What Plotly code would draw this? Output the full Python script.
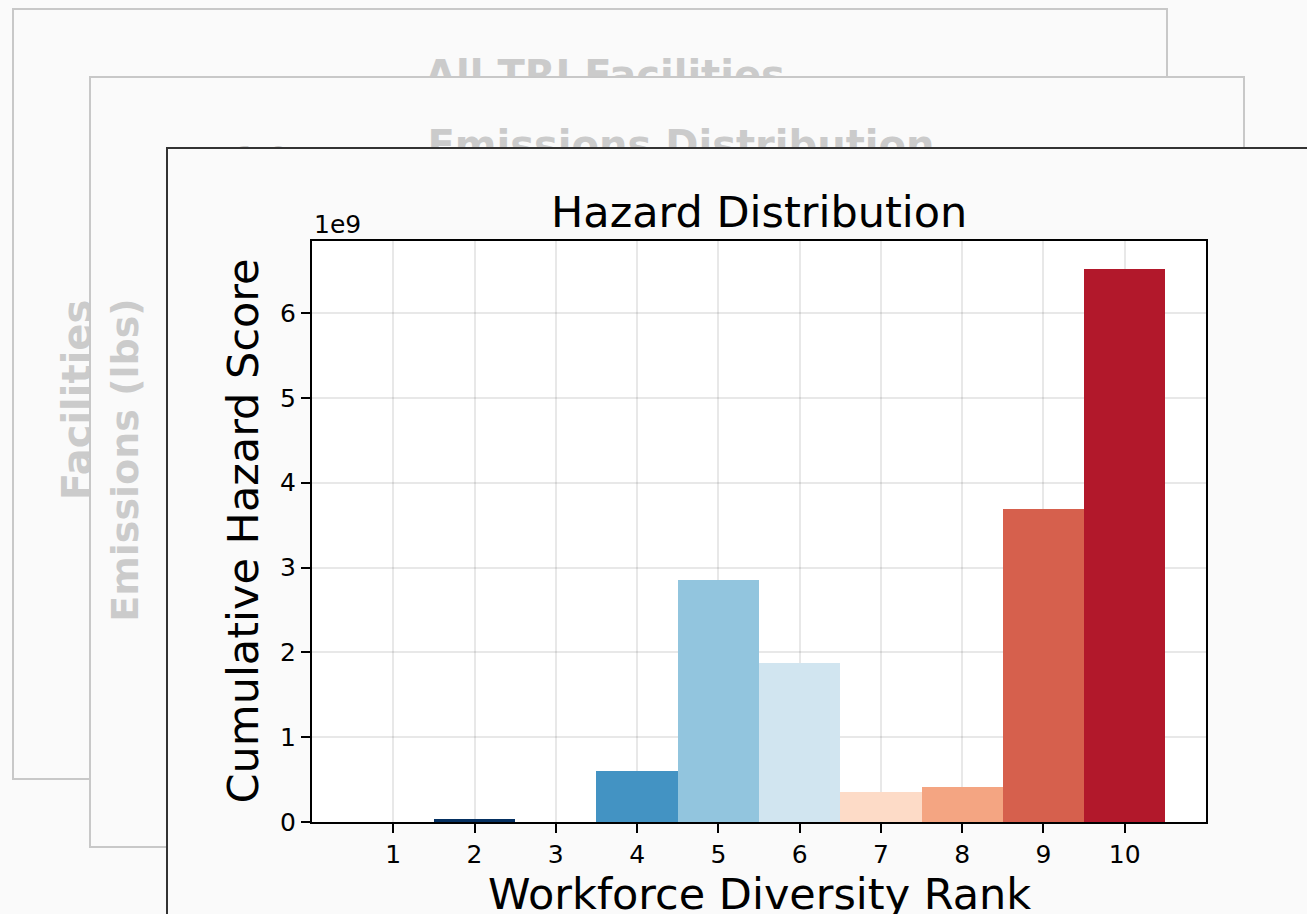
import plotly.graph_objects as go

# Workforce diversity ranks and the cumulative hazard score of each bin
ranks = [1, 2, 3, 4, 5, 6, 7, 8, 9, 10]
hazard = [0.0, 0.035e9, 0.0, 0.60e9, 2.85e9, 1.88e9, 0.35e9, 0.41e9, 3.69e9, 6.52e9]
bar_colors = ["#053061", "#053061", "#2166ac", "#4393c3", "#92c5de",
              "#d1e5f0", "#fddbc7", "#f4a582", "#d6604d", "#b2182b"]
y_ticks = [0, 1, 2, 3, 4, 5, 6]

# faded text of the cards stacked behind the chart
back_titles = ["All TRI Facilities", "Emissions Distribution"]
back_ylabels = ["Facilities", "Emissions (lbs)"]
back_ticks = ["8", "7", "6", "5", "4", "3", "2", "1", "0"]

W, H = 1307, 914
L, R, T, B = 312, 101, 241, 92
pw = W - L - R
ph = H - T - B


# pixel position -> paper position
def px(x):
    return (x - L) / pw


def py(y):
    return (H - B - y) / ph


FONT = "DejaVu Sans, Liberation Sans, sans-serif"
FADE = "#cbcbcb"


def card(x0, y0, x1, y1, line, fill="#fafafa"):
    return dict(type="rect", xref="paper", yref="paper", layer="below",
                x0=px(x0), x1=px(x1), y0=py(y1), y1=py(y0),
                fillcolor=fill, line=dict(color=line, width=2))


def label(text, cx, cy, size, angle=0, w=500, h=60):
    if angle:
        w, h = h, w
    return dict(type="rect", xref="paper", yref="paper", layer="below",
                x0=px(cx - w / 2), x1=px(cx + w / 2),
                y0=py(cy + h / 2), y1=py(cy - h / 2),
                fillcolor="rgba(0,0,0,0)", line=dict(width=0),
                label=dict(text="<b>" + text + "</b>", textposition="middle center",
                           textangle=angle,
                           font=dict(family=FONT, size=size, color=FADE)))


shapes = []
# back card 1
shapes.append(card(13, 9, 1167, 779, "#c8c8c8"))
shapes.append(label(back_titles[0], 605, 72, 40))
shapes.append(label(back_ylabels[0], 74, 400, 40, angle=-90, h=300))
# back card 2
shapes.append(card(90, 77, 1244, 847, "#c8c8c8"))
shapes.append(label(back_titles[1], 681, 142, 40))
shapes.append(label(back_ylabels[1], 122, 460, 38, angle=-90, h=360))
for i, t in enumerate(back_ticks):
    shapes.append(label(t, 174, 172 + i * 72.1, 24, w=30, h=30))
shapes.append(label("1e9", 262, 154, 24, w=60, h=30))
# front card and white plot area
shapes.append(card(167, 148, 1340, 940, "#333333"))
shapes.append(dict(type="rect", xref="paper", yref="paper", layer="below",
                   x0=0, x1=1, y0=0, y1=1, fillcolor="white", line=dict(width=0)))

fig = go.Figure(go.Bar(
    x=ranks, y=hazard, width=1,
    marker=dict(color=bar_colors, line=dict(width=0)),
))

axis_style = dict(
    showline=True, linecolor="black", linewidth=2, mirror=True,
    ticks="outside", ticklen=9, tickwidth=1.8, tickcolor="black",
    showgrid=True, gridcolor="rgba(0,0,0,0.09)", gridwidth=1.5,
    zeroline=False, layer="above traces",
    tickfont=dict(family=FONT, size=25, color="black"),
)

fig.update_xaxes(range=[0, 11], tickvals=ranks, **axis_style)
fig.update_yaxes(range=[0, 6.85e9], tickvals=[v * 1e9 for v in y_ticks],
                 ticktext=[str(v) for v in y_ticks], **axis_style)

fig.update_layout(
    width=W, height=H,
    margin=dict(l=L, r=R, t=T, b=B),
    paper_bgcolor="#fafafa", plot_bgcolor="rgba(0,0,0,0)",
    bargap=0, showlegend=False,
    font=dict(family=FONT, color="black"),
    shapes=shapes,
    annotations=[
        dict(text="Hazard Distribution", xref="paper", yref="paper", x=0.5, y=1,
             yshift=29, xanchor="center", yanchor="middle", showarrow=False,
             font=dict(size=43)),
        dict(text="1e9", xref="paper", yref="paper", x=0, y=1, yshift=17,
             xanchor="left", yanchor="middle", showarrow=False, font=dict(size=25)),
        dict(text="Workforce Diversity Rank", xref="paper", yref="paper", x=0.5, y=0,
             yshift=-72, xanchor="center", yanchor="middle", showarrow=False,
             font=dict(size=43)),
        dict(text="Cumulative Hazard Score", xref="paper", yref="paper", x=0, y=0.5,
             xshift=-70, xanchor="center", yanchor="middle", textangle=-90,
             showarrow=False, font=dict(size=43)),
    ],
)

# drop the browser's default page margin so the figure sits at the top-left corner
fig.write_html("out.html", config={"displayModeBar": False},
               post_script="document.body.style.margin='0';")
